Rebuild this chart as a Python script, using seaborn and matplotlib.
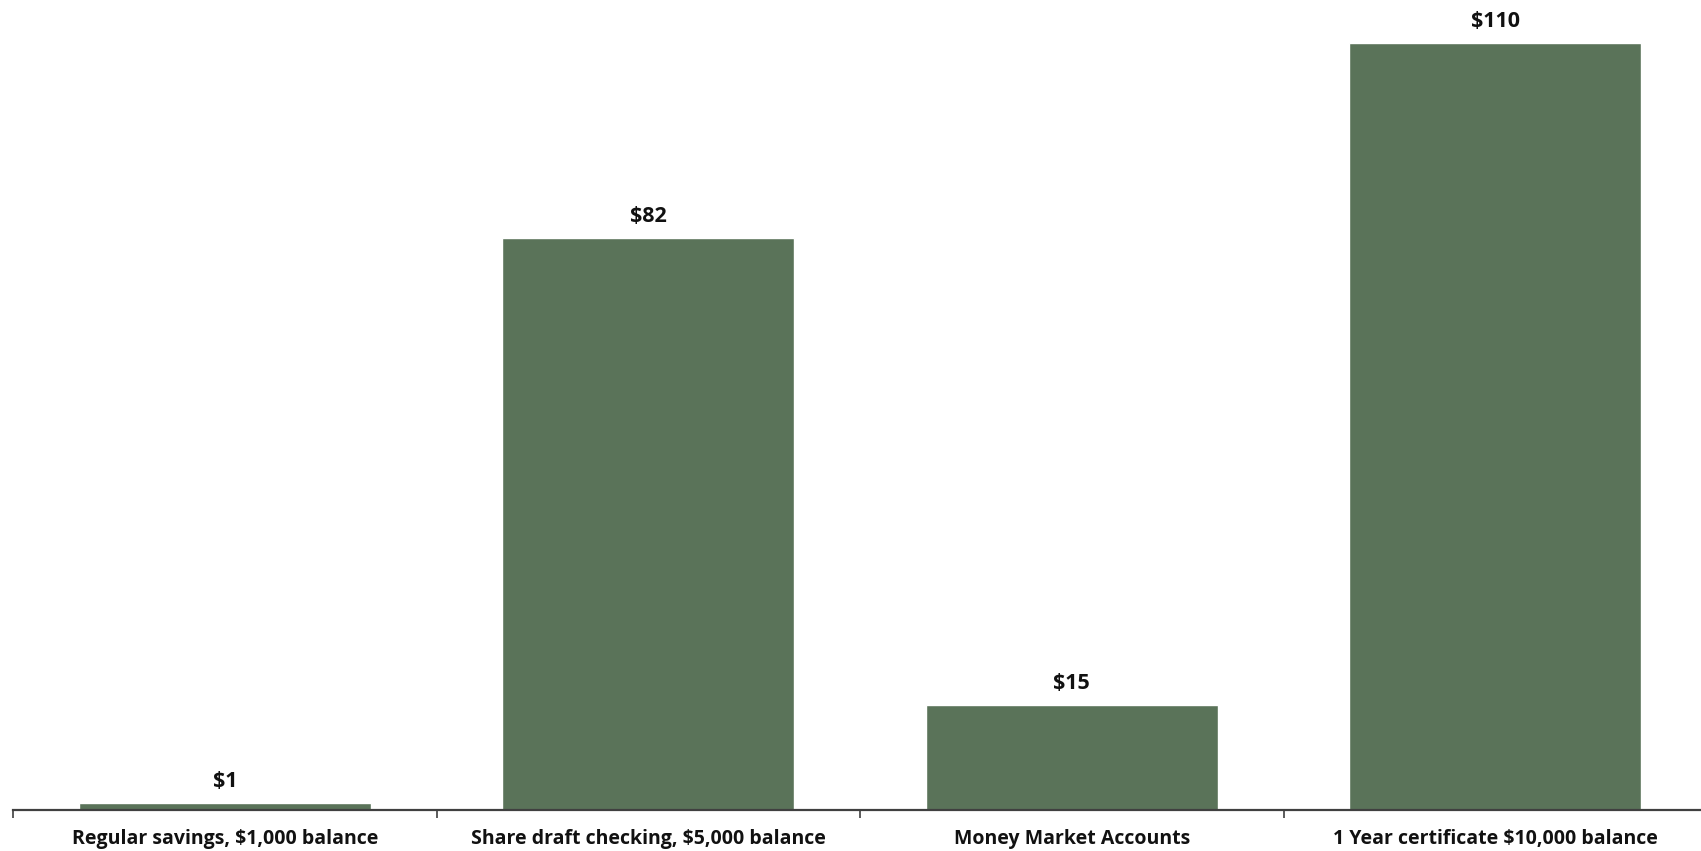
import matplotlib
matplotlib.use("Agg")
import matplotlib.pyplot as plt
import seaborn as sns
import pandas as pd

categories = [
    "Regular savings, $1,000 balance",
    "Share draft checking, $5,000 balance",
    "Money Market Accounts",
    "1 Year certificate $10,000 balance",
]
values = [1, 82, 15, 110]
value_labels = ["$1", "$82", "$15", "$110"]

sns.set_theme(style="white")
plt.rcParams["font.family"] = ["Open Sans", "DejaVu Sans"]

df = pd.DataFrame({"category": categories, "value": values})

fig = plt.figure(figsize=(17.01, 8.51), dpi=100)
ax = fig.add_axes([13 / 1701, 41 / 851, 1694 / 1701, 810 / 851])

sns.barplot(data=df, x="category", y="value", color="#5a7359", width=0.69,
            saturation=1, ax=ax)

ax.set_xlim(-0.5, 3.5)
ax.set_ylim(0, 116.2)
ax.set_xlabel("")
ax.set_ylabel("")
ax.set_yticks([])

for s in ["top", "right", "left"]:
    ax.spines[s].set_visible(False)
ax.spines["bottom"].set_color("#404040")
ax.spines["bottom"].set_linewidth(1.6)

# category-boundary ticks below the axis
ax.set_xticks([-0.5, 0.5, 1.5, 2.5, 3.5], minor=True)
ax.tick_params(axis="x", which="minor", length=6, width=1.2, color="#404040",
               direction="out", bottom=True)
ax.tick_params(axis="x", which="major", length=0, pad=14, labelsize=14,
               labelcolor="#111111")
for t in ax.get_xticklabels():
    t.set_fontweight("bold")

for i, (v, lab) in enumerate(zip(values, value_labels)):
    ax.annotate(lab, (i, v), xytext=(0, 8), textcoords="offset points",
                ha="center", va="bottom", fontsize=15.5, fontweight="bold",
                color="#111111")

fig.savefig("out.png", dpi=100)
